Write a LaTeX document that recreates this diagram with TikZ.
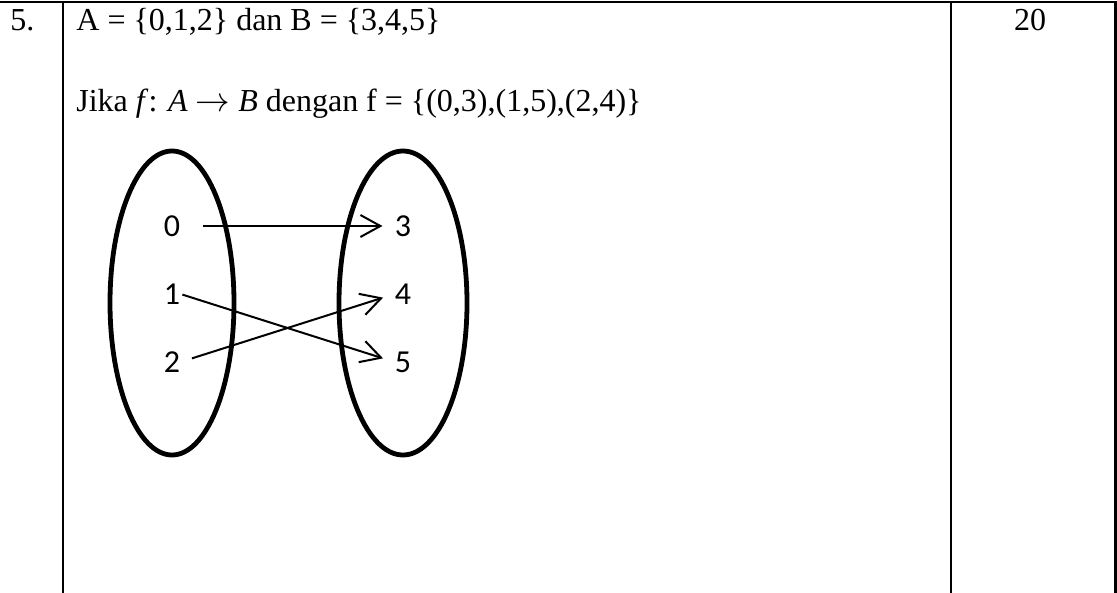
\documentclass[tikz,border=0pt]{standalone}
\usepackage{fontspec}
\setmainfont{Liberation Serif}
\newfontfamily\digitfont{Carlito}
\usetikzlibrary{arrows.meta}

\begin{document}
\begin{tikzpicture}[x=0.5pt,y=-0.5pt]
    \tikzset{
        rule/.style={line width=1.2pt},
        setline/.style={line width=2.4pt},
        elem/.style={font=\digitfont\fontsize{16}{18}\selectfont, inner sep=0pt},
        maps/.style={line width=1pt, -{Straight Barb[length=10pt,width=11pt,line width=1pt]}},
        celltext/.style={font=\fontsize{16}{19}\selectfont, inner sep=0pt}
    }
    \useasboundingbox (0,0) rectangle (1117,593);

    % Table rules
    \draw[rule] (0,2) -- (1117,2);
    \draw[rule] (63,2) -- (63,593);
    \draw[rule] (951,2) -- (951,593);
    \draw[rule] (1115.5,2) -- (1115.5,593);

    % Cell texts
    \node[celltext, anchor=base west] (nomor) at (10,31) {5.};
    \node[celltext, anchor=base west] (soal) at (76,31) {A = \{0,1,2\} dan B = \{3,4,5\}};
    \node[celltext, anchor=base] (skor) at (1030,31) {20};
    \node[celltext, anchor=base west] (fungsi) at (76,112)
        {Jika \textit{f}: \textit{A} $\rightarrow$ \textit{B} dengan f = \{(0,3),(1,5),(2,4)\}};

    % Sets A and B
    \draw[setline] (172,303) ellipse [x radius=62, y radius=152];
    \draw[setline] (403,303) ellipse [x radius=64, y radius=152];

    % Elements
    \node[elem] (a0) at (172,226) {0};
    \node[elem] (a1) at (172,294) {1};
    \node[elem] (a2) at (172,362) {2};
    \node[elem] (b3) at (403,226) {3};
    \node[elem] (b4) at (403,294) {4};
    \node[elem] (b5) at (403,362) {5};

    % Mapping f
    \draw[maps, shorten <=11pt, shorten >=6pt] (a0.east) -- (b3.west);
    \draw[maps, shorten <=1pt, shorten >=6pt] (a1.east) -- (b5.west);
    \draw[maps, shorten <=6pt, shorten >=6pt] (a2.east) -- (b4.west);
\end{tikzpicture}
\end{document}
